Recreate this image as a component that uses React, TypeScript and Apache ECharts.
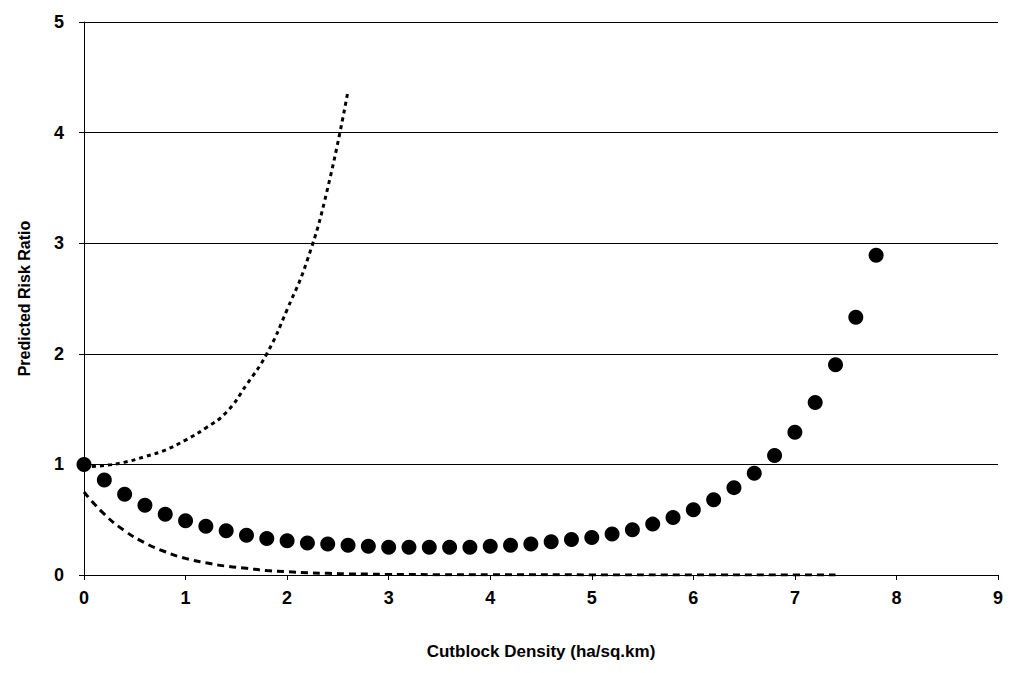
import { useEffect, useRef } from 'react';
import * as echarts from 'echarts';

const dotX = [0, 0.2, 0.4, 0.6, 0.8, 1, 1.2, 1.4, 1.6, 1.8, 2, 2.2, 2.4, 2.6, 2.8, 3, 3.2, 3.4, 3.6, 3.8, 4, 4.2, 4.4, 4.6, 4.8, 5, 5.2, 5.4, 5.6, 5.8, 6, 6.2, 6.4, 6.6, 6.8, 7, 7.2, 7.4, 7.6, 7.8];
const dotY = [1.0, 0.86, 0.73, 0.63, 0.55, 0.49, 0.44, 0.4, 0.36, 0.33, 0.31, 0.29, 0.28, 0.27, 0.26, 0.25, 0.25, 0.25, 0.25, 0.25, 0.26, 0.27, 0.28, 0.3, 0.32, 0.34, 0.37, 0.41, 0.46, 0.52, 0.59, 0.68, 0.79, 0.92, 1.08, 1.29, 1.56, 1.9, 2.33, 2.89];

const upperX = [0, 0.2, 0.4, 0.6, 0.8, 1, 1.2, 1.4, 1.6, 1.8, 2, 2.2, 2.4, 2.6];
const upperY = [0.98, 0.99, 1.02, 1.07, 1.13, 1.22, 1.33, 1.47, 1.72, 2.0, 2.4, 2.85, 3.5, 4.38];

const lowerX = [0, 0.2, 0.4, 0.6, 0.8, 1, 1.2, 1.4, 1.6, 1.8, 2, 2.2, 2.4, 2.6, 2.8, 3, 3.5, 4, 5, 6, 7, 7.4];
const lowerY = [0.75, 0.55, 0.4, 0.29, 0.21, 0.15, 0.11, 0.08, 0.06, 0.04, 0.03, 0.02, 0.015, 0.01, 0.008, 0.005, 0.003, 0.002, 0.001, 0, 0, 0];

const zip = (xs: number[], ys: number[]) => xs.map((x, i) => [x, ys[i]]);

export default function App() {
  const chartRef = useRef<HTMLDivElement>(null);

  useEffect(() => {
    if (!chartRef.current) return;
    const chart = echarts.init(chartRef.current, null, { renderer: 'svg' });
    const font = { fontFamily: 'Liberation Sans, Arial', fontWeight: 'bold' as const, color: '#000' };
    chart.setOption({
      animation: false,
      grid: { left: 70, right: 6, top: 14, bottom: 84 },
      xAxis: {
        type: 'value', min: 0, max: 9, interval: 1,
        name: 'Cutblock Density (ha/sq.km)', nameLocation: 'middle', nameGap: 68,
        nameTextStyle: { ...font, fontSize: 17 },
        axisLabel: { ...font, fontSize: 18, margin: 14 },
        axisLine: { lineStyle: { color: '#000', width: 1 } },
        axisTick: { show: true, lineStyle: { color: '#000' }, length: 5 },
        splitLine: { show: false },
      },
      yAxis: {
        type: 'value', min: 0, max: 5, interval: 1,
        name: 'Predicted Risk Ratio', nameLocation: 'middle', nameGap: 52,
        nameTextStyle: { ...font, fontSize: 16 },
        axisLabel: { ...font, fontSize: 18, margin: 20 },
        axisLine: { show: true, lineStyle: { color: '#000', width: 1 } },
        axisTick: { show: true, inside: false, lineStyle: { color: '#000' }, length: 5 },
        splitLine: { show: true, lineStyle: { color: '#000', width: 1 } },
      },
      series: [
        {
          type: 'line', data: zip(upperX, upperY), showSymbol: false, smooth: true,
          lineStyle: { color: '#000', width: 3, type: [4, 4] },
        },
        {
          type: 'line', data: zip(lowerX, lowerY), showSymbol: false, smooth: true,
          lineStyle: { color: '#000', width: 3, type: [7, 5] },
        },
        {
          type: 'scatter', data: zip(dotX, dotY), symbolSize: 15,
          itemStyle: { color: '#000', opacity: 1 },
        },
      ],
    });
    return () => chart.dispose();
  }, []);

  return <div ref={chartRef} style={{ width: 998, height: 657 }} />;
}
